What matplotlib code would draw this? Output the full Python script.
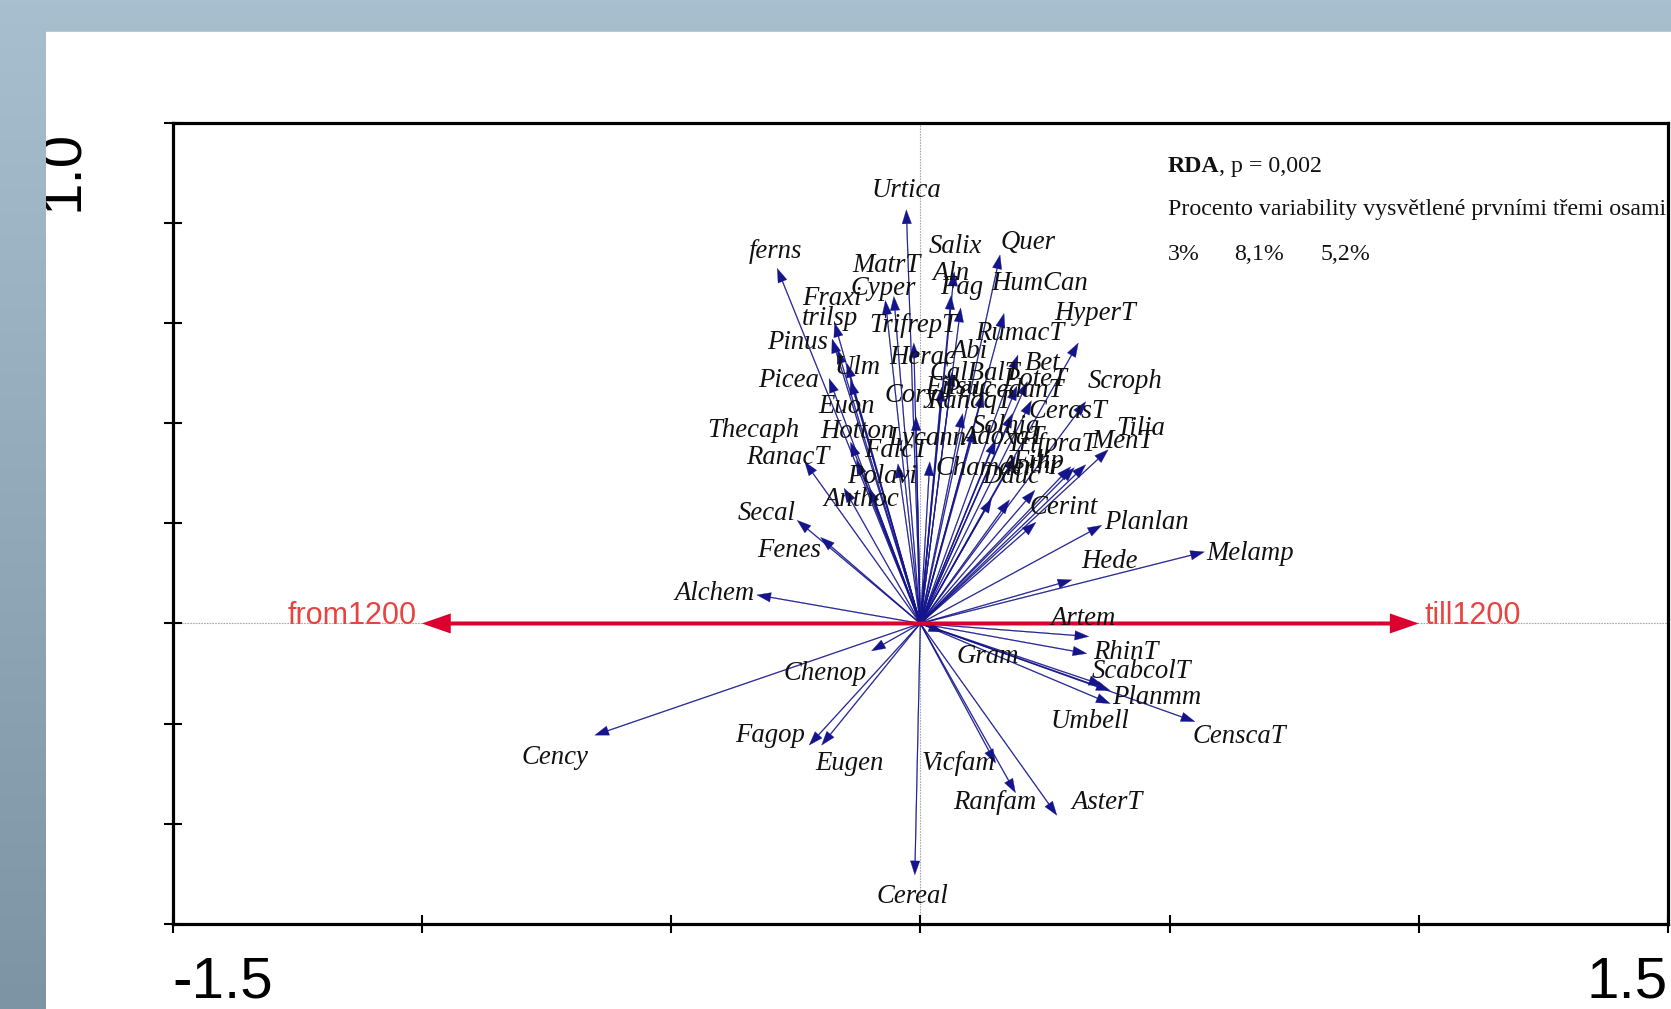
import numpy as np
import matplotlib
matplotlib.use("Agg")
import matplotlib.pyplot as plt
from matplotlib.patches import Rectangle
from matplotlib.colors import LinearSegmentedColormap

# species arrows (RDA scores) and where their labels sit
species = ["Urtica", "ferns", "Salix", "Quer", "MatrT", "Cyper", "Aln", "Fag", "HumCan",
           "Fraxi", "trilsp", "Pinus", "Picea", "Ulm", "Euon", "TrifrepT", "RumacT",
           "HyperT", "Herac", "Abi", "Bet", "CalBalT", "PoteT", "Filsuc", "PeucedanT",
           "Cory", "RanaqT", "CerasT", "Scroph", "Tilia", "MenT", "Solnig", "AdoxaT",
           "TrifpraT", "Lycann", "FalcT", "Chamaer", "Filip", "Dauc", "Anthr", "Polavi",
           "Anthoc", "Hotton", "Thecaph", "RanacT", "Secal", "Fenes", "Alchem", "Cerint",
           "Planlan", "Hede", "Melamp", "Artem", "RhinT", "Gram", "ScabcolT", "Planmm",
           "Umbell", "CenscaT", "AsterT", "Ranfam", "Vicfam", "Cereal", "Cency", "Fagop",
           "Eugen", "Chenop"]
tip_x = [-0.028, -0.287, 0.068, 0.160, -0.070, -0.053, 0.062, 0.081, 0.168,
         -0.172, -0.177, -0.166, -0.183, -0.147, -0.140, -0.013, 0.196,
         0.317, 0.043, 0.064, 0.215, 0.126, 0.194, 0.085, 0.185,
         -0.009, 0.109, 0.223, 0.332, 0.377, 0.332, 0.151, 0.191,
         0.309, 0.019, -0.045, 0.143, 0.230, 0.179, 0.302, -0.102,
         -0.153, -0.140, -0.128, -0.232, -0.247, -0.200, -0.328, 0.232,
         0.364, 0.304, 0.570, 0.338, 0.334, 0.045, 0.366, 0.381,
         0.381, 0.551, 0.274, 0.191, 0.151, -0.011, -0.653, -0.223,
         -0.198, -0.098]
tip_y = [0.826, 0.709, 0.702, 0.736, 0.645, 0.653, 0.655, 0.630, 0.619,
         0.600, 0.568, 0.547, 0.489, 0.519, 0.485, 0.560, 0.536,
         0.560, 0.472, 0.502, 0.483, 0.460, 0.474, 0.419, 0.419,
         0.413, 0.389, 0.445, 0.443, 0.347, 0.317, 0.366, 0.334,
         0.311, 0.323, 0.319, 0.249, 0.266, 0.247, 0.313, 0.270,
         0.270, 0.362, 0.326, 0.323, 0.206, 0.172, 0.057, 0.202,
         0.196, 0.087, 0.143, -0.026, -0.060, -0.017, -0.123, -0.134,
         -0.160, -0.196, -0.383, -0.338, -0.279, -0.502, -0.223, -0.243,
         -0.243, -0.055]
lab_x = [-0.028, -0.291, 0.070, 0.217, -0.068, -0.074, 0.062, 0.083, 0.240,
         -0.177, -0.181, -0.247, -0.264, -0.126, -0.147, -0.015, 0.200,
         0.351, 0.004, 0.098, 0.245, 0.109, 0.230, 0.077, 0.166,
         -0.019, 0.098, 0.296, 0.411, 0.443, 0.406, 0.172, 0.166,
         0.264, 0.015, -0.049, 0.130, 0.236, 0.183, 0.221, -0.077,
         -0.119, -0.126, -0.334, -0.266, -0.309, -0.264, -0.413, 0.287,
         0.453, 0.379, 0.662, 0.326, 0.413, 0.136, 0.443, 0.474,
         0.340, 0.640, 0.374, 0.149, 0.077, -0.015, -0.732, -0.302,
         -0.143, -0.191]
lab_y = [0.864, 0.743, 0.753, 0.760, 0.715, 0.668, 0.698, 0.670, 0.679,
         0.649, 0.609, 0.560, 0.485, 0.511, 0.434, 0.594, 0.579,
         0.619, 0.532, 0.543, 0.519, 0.500, 0.487, 0.472, 0.466,
         0.455, 0.443, 0.423, 0.483, 0.389, 0.364, 0.394, 0.372,
         0.357, 0.370, 0.345, 0.309, 0.323, 0.294, 0.313, 0.294,
         0.247, 0.383, 0.385, 0.332, 0.219, 0.145, 0.060, 0.232,
         0.202, 0.123, 0.140, 0.009, -0.057, -0.066, -0.096, -0.147,
         -0.196, -0.226, -0.357, -0.357, -0.279, -0.545, -0.268, -0.223,
         -0.279, -0.100]

# explanatory variable
env_names = ["till1200", "from1200"]
env_x = [1.0, -1.0]
env_y = [0.0, 0.0]

info_lines = ["Procento variability vysvětlené prvními třemi osami"]
axis_pct = ["3%", "8,1%", "5,2%"]

W, H = 1671, 1009
fig = plt.figure(figsize=(W / 100, H / 100), dpi=100)
cmap = LinearSegmentedColormap.from_list("slide", ["#a8bfcf", "#7c94a3"])
grad = np.linspace(0, 1, 256).reshape(-1, 1)

# slide background (blue-grey frame, white sheet)
bg = fig.add_axes([0, 0, 1, 1], zorder=-5)
bg.imshow(grad, aspect="auto", cmap=cmap, extent=[0, 1, 0, 1])
bg.add_patch(Rectangle((46 / W, 0), 1, 1 - 32 / H, color="white"))
bg.set_xlim(0, 1); bg.set_ylim(0, 1); bg.axis("off")

ax = fig.add_axes([172.6 / W, 85 / H, (1668 - 172.6) / W, (924 - 122.6) / H])
ax.set_facecolor("none")
ax.set_xlim(-1.5, 1.5)
ax.set_ylim(-0.6, 1.0)
ax.set_xticks(np.arange(-1.5, 1.51, 0.5)); ax.set_xticklabels([])
ax.set_yticks(np.arange(-0.6, 1.01, 0.2)); ax.set_yticklabels([])
ax.tick_params(direction="inout", length=13, width=1.5)
for s in ax.spines.values():
    s.set_linewidth(2.3)

ax.axvline(0, color="#a8a8a8", lw=0.8, ls=(0, (1.5, 1)), zorder=1)
ax.axhline(0, color="#a8a8a8", lw=0.8, ls=(0, (1.5, 1)), zorder=1)

navy = "#14148c"
for name, tx, ty, lx, ly in zip(species, tip_x, tip_y, lab_x, lab_y):
    ax.arrow(0, 0, tx, ty, width=0.0018, head_width=0.019, head_length=0.028,
             length_includes_head=True, fc=navy, ec=navy, lw=0.2, zorder=3)
    ax.text(lx, ly, name, ha="center", va="center", fontsize=19.3, style="italic",
            family="Liberation Serif", color="#111111", zorder=5)

for name, ex, ey in zip(env_names, env_x, env_y):
    ax.arrow(0, 0, ex, ey, width=0.008, head_width=0.04, head_length=0.058,
             length_includes_head=True, fc="#dc0030", ec="none", zorder=4)
    ax.text(ex + 0.011 * np.sign(ex), ey - 0.002, name,
            ha="left" if ex > 0 else "right", va="baseline", fontsize=22,
            family="Liberation Sans", color="#e8443f", zorder=5)

# text block at top right
tf = dict(family="Liberation Serif", fontsize=17.2, color="#111111")
t1 = ax.text(0.496, 0.913, "RDA", fontweight="bold", va="center", ha="left", **tf)
ax.annotate(", p = 0,002", xy=(1, 0), xycoords=t1, va="bottom", ha="left", **tf)
ax.text(0.496, 0.826, info_lines[0], va="center", ha="left", **tf)
for px, s in zip([0.496, 0.630, 0.802], axis_pct):
    ax.text(px, 0.737, s, va="center", ha="left", **tf)

# axis end labels
lf = dict(family="Liberation Sans", fontsize=42, color="black")
ax.text(-1.5, -0.092, "-1.5", transform=ax.get_xaxis_transform(), ha="left",
        va="baseline", **lf)
ax.text(1.5, -0.092, "1.5", transform=ax.get_xaxis_transform(), ha="right",
        va="baseline", **lf)
fig.text(78 / W, 1 - 170 / H, "1.0", rotation=90, rotation_mode="anchor",
         ha="center", va="baseline", zorder=1, **lf)

# the slide's left band sits over the "1.0" label and hides part of it
band = fig.add_axes([0, 0, 46 / W, 1], zorder=10)
band.imshow(grad, aspect="auto", cmap=cmap, extent=[0, 1, 0, 1])
band.set_xlim(0, 1); band.set_ylim(0, 1); band.axis("off")

fig.savefig("out.png", dpi=100)
